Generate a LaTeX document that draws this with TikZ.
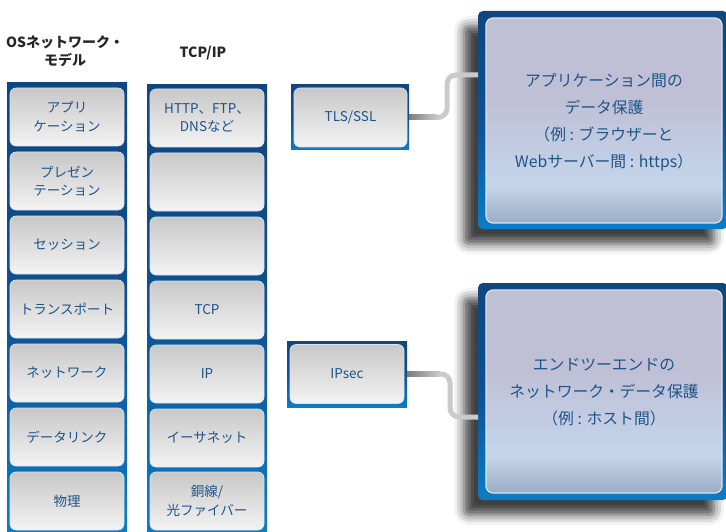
\documentclass[tikz,border=0pt]{standalone}
\usepackage{fontspec}
\setmainfont{Noto Sans CJK JP}
\usetikzlibrary{shadows.blur}
\definecolor{colTop}{HTML}{0F4680}
\definecolor{colMid}{HTML}{0E5190}
\definecolor{colBot}{HTML}{0A7DC6}
\definecolor{boxTop}{HTML}{C8C8C8}
\definecolor{boxBot}{HTML}{F3F3F3}
\definecolor{txt}{HTML}{1F5487}
\definecolor{edgeC}{HTML}{DCE3EC}
\definecolor{pTop}{HTML}{BFC0D6}
\definecolor{pMid}{HTML}{C4D5EB}
\definecolor{pBot}{HTML}{9BADC4}
\definecolor{connC}{HTML}{CACACA}
\definecolor{connD}{HTML}{7C7C7C}
\pgfdeclareverticalshading{panelshade}{100bp}{color(0bp)=(pBot); color(25bp)=(pBot); color(34bp)=(pMid); color(55bp)=(pTop); color(75bp)=(pTop); color(100bp)=(pTop)}
\pgfdeclareverticalshading{colshade}{100bp}{color(0bp)=(colBot); color(25bp)=(colBot); color(50bp)=(colMid); color(75bp)=(colTop); color(100bp)=(colTop)}
\tikzset{
  colbg/.style={shading=colshade, draw=none, inner sep=0pt},
  layer/.style={rounded corners=6pt, top color=boxTop, bottom color=boxBot, draw=edgeC, line width=0.6pt,
    minimum width=114pt, minimum height=58pt, inner sep=0pt, align=center, text=txt,
    font=\fontsize{13.5}{18.5}\selectfont},
  bigbg/.style={shading=colshade, rounded corners=5pt, draw=none, inner sep=0pt,
    blur shadow={shadow xshift=-14pt, shadow yshift=-15pt, shadow blur radius=10pt, shadow opacity=75}},
  panel/.style={shading=panelshade, rounded corners=7pt, draw=edgeC, line width=1.2pt, inner sep=0pt},
  bigtext/.style={align=center, text=txt, font=\fontsize{15.8}{27}\selectfont},
  title/.style={align=center, text=black!85, font=\bfseries\fontsize{14}{18}\selectfont},
  conn/.style={draw=connC, line width=5pt, rounded corners=9pt},
}
\begin{document}
\begin{tikzpicture}[x=1pt,y=-1pt]
\useasboundingbox (0,0) rectangle (726,532);
% titles
\node[title] (t1) at (65,51) {OSネットワーク・\\モデル};
\node[title] (t2) at (203,53) {TCP/IP};
% column backgrounds
\node[colbg, minimum width=120pt, minimum height=449pt] (osbg) at (67,307.5) {};
\node[colbg, minimum width=120pt, minimum height=447pt] (tcpbg) at (207,308.5) {};
% OSI layers
\node[layer] (o1) at (67,117) {アプリ\\ケーション};
\node[layer] (o2) at (67,181) {プレゼン\\テーション};
\node[layer] (o3) at (67,245) {セッション};
\node[layer] (o4) at (67,309) {トランスポート};
\node[layer] (o5) at (67,373) {ネットワーク};
\node[layer] (o6) at (67,437) {データリンク};
\node[layer] (o7) at (67,501) {物理};
% TCP/IP layers
\node[layer] (p1) at (207,118) {HTTP、FTP、\\DNSなど};
\node[layer] (p2) at (207,182) {};
\node[layer] (p3) at (207,246) {};
\node[layer] (p4) at (207,310) {TCP};
\node[layer] (p5) at (207,374) {IP};
\node[layer] (p6) at (207,438) {イーサネット};
\node[layer] (p7) at (207,501) {銅線/\\光ファイバー};
% protocol boxes
\node[colbg, minimum width=118pt, minimum height=65pt] (tlsbg) at (350,117.5) {};
\node[layer, minimum width=113pt, minimum height=59pt] (tls) at (350.5,117.5) {TLS/SSL};
\node[colbg, minimum width=120pt, minimum height=66pt] (ipbg) at (347,374) {};
\node[layer, minimum width=114pt, minimum height=59pt] (ips) at (347,374) {IPsec};
% big boxes
\node[bigbg, minimum width=250pt, minimum height=218pt] (topbg) at (603,120) {};
\node[panel, minimum width=236pt, minimum height=205pt] (toppanel) at (604,120.5) {};
\node[bigtext] (toptext) at (604,122.5) {アプリケーション間の\\データ保護\\（例 : ブラウザーと\\Webサーバー間 : https）};
\node[bigbg, minimum width=250pt, minimum height=217pt] (botbg) at (603,391.5) {};
\node[panel, minimum width=236pt, minimum height=203pt] (botpanel) at (604,391.5) {};
\node[bigtext] (bottext) at (604,392.5) {エンドツーエンドの\\ネットワーク・データ保護\\（例 : ホスト間）};
% connectors
\coordinate (j1) at (447,0);
\coordinate (e1) at (478,75);
\coordinate (j2) at (450,0);
\coordinate (e2) at (478,417);
\draw[conn] (tlsbg.east) -- (tlsbg.east -| j1) |- (e1);
\draw[conn] (ipbg.east) -- (ipbg.east -| j2) |- (e2);
\shade[left color=connD, right color=connC] (409,115) rectangle (437,120);
\shade[left color=connD, right color=connC] (407,371.5) rectangle (440,376.5);
\end{tikzpicture}
\end{document}
